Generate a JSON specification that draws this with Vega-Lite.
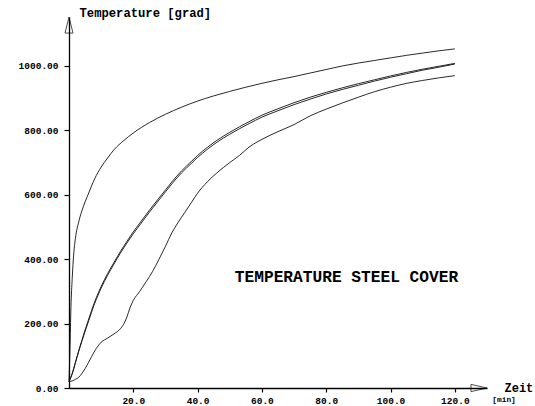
{
  "$schema": "https://vega.github.io/schema/vega-lite/v6.json",
  "autosize": "none",
  "width": 418,
  "height": 371,
  "padding": {"left": 69, "top": 17, "right": 48, "bottom": 18},
  "background": "white",
  "config": {"view": {"stroke": null}, "font": "Liberation Mono"},
  "datasets": {
    "curves": [
      {"s":"u","t":0,"T":20},{"s":"u","t":0.3,"T":120},{"s":"u","t":0.6,"T":250},{"s":"u","t":1,"T":340},{"s":"u","t":1.5,"T":420},{"s":"u","t":2,"T":465},{"s":"u","t":3,"T":515},{"s":"u","t":4,"T":550},{"s":"u","t":5,"T":578},{"s":"u","t":6,"T":602},{"s":"u","t":7,"T":627},{"s":"u","t":8,"T":650},{"s":"u","t":10,"T":686},{"s":"u","t":12,"T":714},{"s":"u","t":14,"T":740},{"s":"u","t":17,"T":768},{"s":"u","t":20,"T":792},{"s":"u","t":25,"T":824},{"s":"u","t":30,"T":850},{"s":"u","t":35,"T":872},{"s":"u","t":40,"T":891},{"s":"u","t":45,"T":907},{"s":"u","t":50,"T":921},{"s":"u","t":55,"T":934},{"s":"u","t":60,"T":946},{"s":"u","t":65,"T":957},{"s":"u","t":70,"T":967},{"s":"u","t":75,"T":978},{"s":"u","t":80,"T":989},{"s":"u","t":85,"T":1000},{"s":"u","t":90,"T":1009},{"s":"u","t":95,"T":1017},{"s":"u","t":100,"T":1025},{"s":"u","t":105,"T":1033},{"s":"u","t":110,"T":1040},{"s":"u","t":115,"T":1047},{"s":"u","t":120,"T":1053},
      {"s":"m1","t":0,"T":20},{"s":"m1","t":1,"T":45},{"s":"m1","t":2,"T":80},{"s":"m1","t":3,"T":115},{"s":"m1","t":4,"T":148},{"s":"m1","t":5,"T":180},{"s":"m1","t":6,"T":210},{"s":"m1","t":7,"T":240},{"s":"m1","t":8,"T":268},{"s":"m1","t":10,"T":315},{"s":"m1","t":12,"T":355},{"s":"m1","t":14,"T":390},{"s":"m1","t":16,"T":424},{"s":"m1","t":18,"T":455},{"s":"m1","t":20,"T":485},{"s":"m1","t":22,"T":512},{"s":"m1","t":25,"T":552},{"s":"m1","t":28,"T":590},{"s":"m1","t":30,"T":615},{"s":"m1","t":32,"T":640},{"s":"m1","t":35,"T":674},{"s":"m1","t":38,"T":703},{"s":"m1","t":40,"T":722},{"s":"m1","t":43,"T":747},{"s":"m1","t":46,"T":769},{"s":"m1","t":50,"T":794},{"s":"m1","t":53,"T":811},{"s":"m1","t":56,"T":827},{"s":"m1","t":60,"T":847},{"s":"m1","t":65,"T":867},{"s":"m1","t":70,"T":886},{"s":"m1","t":75,"T":903},{"s":"m1","t":80,"T":918},{"s":"m1","t":85,"T":932},{"s":"m1","t":90,"T":945},{"s":"m1","t":95,"T":957},{"s":"m1","t":100,"T":969},{"s":"m1","t":105,"T":980},{"s":"m1","t":110,"T":990},{"s":"m1","t":115,"T":999},{"s":"m1","t":120,"T":1008},
      {"s":"m2","t":0,"T":20},{"s":"m2","t":1,"T":44},{"s":"m2","t":2,"T":78},{"s":"m2","t":3,"T":113},{"s":"m2","t":4,"T":145},{"s":"m2","t":5,"T":176},{"s":"m2","t":6,"T":205},{"s":"m2","t":7,"T":235},{"s":"m2","t":8,"T":263},{"s":"m2","t":10,"T":310},{"s":"m2","t":12,"T":350},{"s":"m2","t":14,"T":385},{"s":"m2","t":16,"T":419},{"s":"m2","t":18,"T":450},{"s":"m2","t":20,"T":479},{"s":"m2","t":22,"T":506},{"s":"m2","t":25,"T":546},{"s":"m2","t":28,"T":584},{"s":"m2","t":30,"T":609},{"s":"m2","t":32,"T":634},{"s":"m2","t":35,"T":668},{"s":"m2","t":38,"T":697},{"s":"m2","t":40,"T":716},{"s":"m2","t":43,"T":741},{"s":"m2","t":46,"T":763},{"s":"m2","t":50,"T":788},{"s":"m2","t":53,"T":805},{"s":"m2","t":56,"T":821},{"s":"m2","t":60,"T":841},{"s":"m2","t":65,"T":861},{"s":"m2","t":70,"T":880},{"s":"m2","t":75,"T":897},{"s":"m2","t":80,"T":913},{"s":"m2","t":85,"T":927},{"s":"m2","t":90,"T":940},{"s":"m2","t":95,"T":953},{"s":"m2","t":100,"T":965},{"s":"m2","t":105,"T":976},{"s":"m2","t":110,"T":987},{"s":"m2","t":115,"T":996},{"s":"m2","t":120,"T":1006},
      {"s":"l","t":0,"T":20},{"s":"l","t":1,"T":22},{"s":"l","t":2,"T":27},{"s":"l","t":3,"T":33},{"s":"l","t":4,"T":45},{"s":"l","t":5,"T":60},{"s":"l","t":6,"T":78},{"s":"l","t":7,"T":97},{"s":"l","t":8,"T":115},{"s":"l","t":9,"T":130},{"s":"l","t":10,"T":142},{"s":"l","t":12,"T":155},{"s":"l","t":14,"T":168},{"s":"l","t":16,"T":184},{"s":"l","t":17,"T":198},{"s":"l","t":18,"T":220},{"s":"l","t":19,"T":250},{"s":"l","t":20,"T":272},{"s":"l","t":22,"T":300},{"s":"l","t":24,"T":330},{"s":"l","t":26,"T":362},{"s":"l","t":28,"T":400},{"s":"l","t":30,"T":440},{"s":"l","t":32,"T":482},{"s":"l","t":34,"T":515},{"s":"l","t":36,"T":545},{"s":"l","t":38,"T":575},{"s":"l","t":40,"T":605},{"s":"l","t":43,"T":640},{"s":"l","t":46,"T":668},{"s":"l","t":50,"T":700},{"s":"l","t":53,"T":722},{"s":"l","t":56,"T":748},{"s":"l","t":60,"T":772},{"s":"l","t":65,"T":796},{"s":"l","t":70,"T":818},{"s":"l","t":75,"T":845},{"s":"l","t":80,"T":866},{"s":"l","t":85,"T":885},{"s":"l","t":90,"T":903},{"s":"l","t":95,"T":920},{"s":"l","t":100,"T":934},{"s":"l","t":105,"T":946},{"s":"l","t":110,"T":955},{"s":"l","t":115,"T":963},{"s":"l","t":120,"T":970}
    ]
  },
  "layer": [
    {
      "data": {"name": "curves"},
      "mark": {"type": "line", "color": "#111", "strokeWidth": 0.9, "interpolate": "monotone"},
      "encoding": {
        "x": {
          "field": "t", "type": "quantitative",
          "scale": {"domain": [0, 130], "nice": false, "zero": false},
          "axis": {
            "values": [20, 40, 60, 80, 100, 120], "format": ".1f", "grid": false,
            "domainColor": "black", "domainWidth": 1.3, "tickColor": "black", "tickSize": 4, "tickWidth": 1.2,
            "labelFont": "Liberation Mono", "labelFontWeight": "bold", "labelFontSize": 9.5, "labelColor": "black", "labelPadding": 3,
            "title": "Zeit", "titleFont": "Liberation Mono", "titleFontWeight": "bold", "titleFontSize": 12, "titleColor": "black",
            "titleAngle": 0, "titleAlign": "left", "titleBaseline": "middle", "titleX": 435, "titleY": -1
          }
        },
        "y": {
          "field": "T", "type": "quantitative",
          "scale": {"domain": [0, 1152], "nice": false, "zero": false},
          "axis": {
            "values": [0, 200, 400, 600, 800, 1000], "format": ".2f", "grid": false,
            "domainColor": "black", "domainWidth": 1.3, "tickColor": "black", "tickSize": 5, "tickWidth": 1.2,
            "labelFont": "Liberation Mono", "labelFontWeight": "bold", "labelFontSize": 9.5, "labelColor": "black", "labelPadding": 6,
            "title": "Temperature [grad]", "titleFont": "Liberation Mono", "titleFontWeight": "bold", "titleFontSize": 12.2, "titleColor": "black",
            "titleAngle": 0, "titleAlign": "left", "titleBaseline": "middle", "titleX": 10, "titleY": -5
          }
        },
        "detail": {"field": "s", "type": "nominal"}
      }
    },
    {
      "data": {"values": [{"t": 0, "T": 1127}]},
      "mark": {"type": "point", "shape": "M0,-1L0.5,1L-0.5,1Z", "size": 256, "filled": false, "color": "black", "strokeWidth": 1},
      "encoding": {"x": {"field": "t", "type": "quantitative"}, "y": {"field": "T", "type": "quantitative"}}
    },
    {
      "data": {"values": [{"t": 127.5, "T": 0}]},
      "mark": {"type": "point", "shape": "M1,0L-1,0.45L-1,-0.45Z", "size": 256, "filled": false, "color": "black", "strokeWidth": 1},
      "encoding": {"x": {"field": "t", "type": "quantitative"}, "y": {"field": "T", "type": "quantitative"}}
    },
    {
      "data": {"values": [{"t": 86.3, "T": 345, "label": "TEMPERATURE STEEL COVER"}, {"t": 135.3, "T": -37, "label": "[min]"}]},
      "mark": {"type": "text", "font": "Liberation Mono", "fontWeight": "bold", "color": "black", "baseline": "middle"},
      "encoding": {
        "x": {"field": "t", "type": "quantitative"},
        "y": {"field": "T", "type": "quantitative"},
        "text": {"field": "label"},
        "size": {"field": "label", "type": "nominal", "scale": {"domain": ["TEMPERATURE STEEL COVER", "[min]"], "range": [16.2, 7.8]}, "legend": null},
        "align": {"value": "center"}
      }
    }
  ]
}
